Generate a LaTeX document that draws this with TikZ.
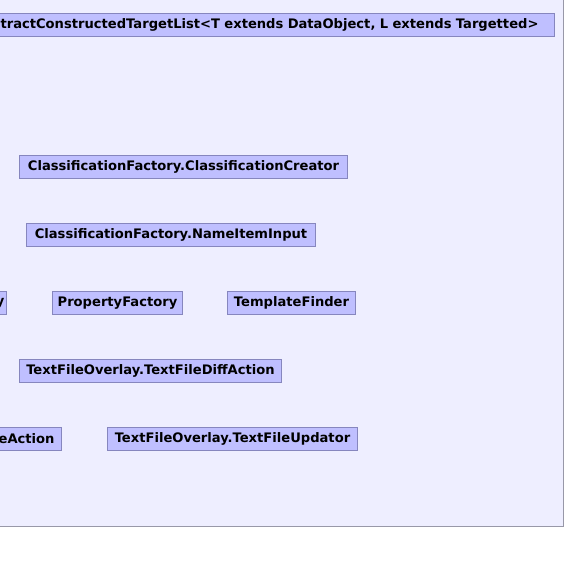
\documentclass[tikz,border=0pt]{standalone}
\usepackage{fontspec}
\setmainfont{DejaVu Sans}
\usepackage{tikz}
\usepackage{xcolor}
\definecolor{ColPanel}{RGB}{238,238,255}
\definecolor{ColFrame}{RGB}{152,152,168}
\definecolor{ColBox}{RGB}{191,191,255}
\definecolor{ColLine}{RGB}{134,134,190}
\tikzstyle{PanelGraph}=[draw=ColFrame,fill=ColPanel,line width=1pt]
\tikzstyle{ClassGraph}=[rectangle,draw=ColLine,fill=ColBox,line width=1pt,inner sep=0pt,
minimum height=23pt,anchor=north west,font=\fontsize{13.1}{14}\selectfont\bfseries]
\tikzstyle{CutGraph}=[ClassGraph,anchor=north east,align=right]

\begin{document}
\begin{tikzpicture}[x=1pt,y=-1pt]
        \useasboundingbox (0,0) rectangle (566,564);
        \clip (0,0) rectangle (566,564);
        \fill[white] (0,0) rectangle (566,564);
        \draw[PanelGraph] (-5,-5) rectangle (563.5,526.5);
        \node[CutGraph,text width=580pt,inner xsep=16pt](a)at(555,13){tractConstructedTargetList<T extends DataObject, L extends Targetted>};
        \node[ClassGraph,minimum width=328pt](b)at(19,155){ClassificationFactory.ClassificationCreator};
        \node[ClassGraph,minimum width=289pt](c)at(26,223){ClassificationFactory.NameItemInput};
        \node[CutGraph,text width=30pt,inner xsep=2pt](d)at(7,291){y};
        \node[ClassGraph,minimum width=130pt](e)at(52,291){PropertyFactory};
        \node[ClassGraph,minimum width=128pt](f)at(227,291){TemplateFinder};
        \node[ClassGraph,minimum width=262pt](g)at(19,359){TextFileOverlay.TextFileDiffAction};
        \node[CutGraph,text width=80pt,inner xsep=7pt](h)at(62,427){eAction};
        \node[ClassGraph,minimum width=250pt](i)at(107,427){TextFileOverlay.TextFileUpdator};
    \end{tikzpicture}
\end{document}
